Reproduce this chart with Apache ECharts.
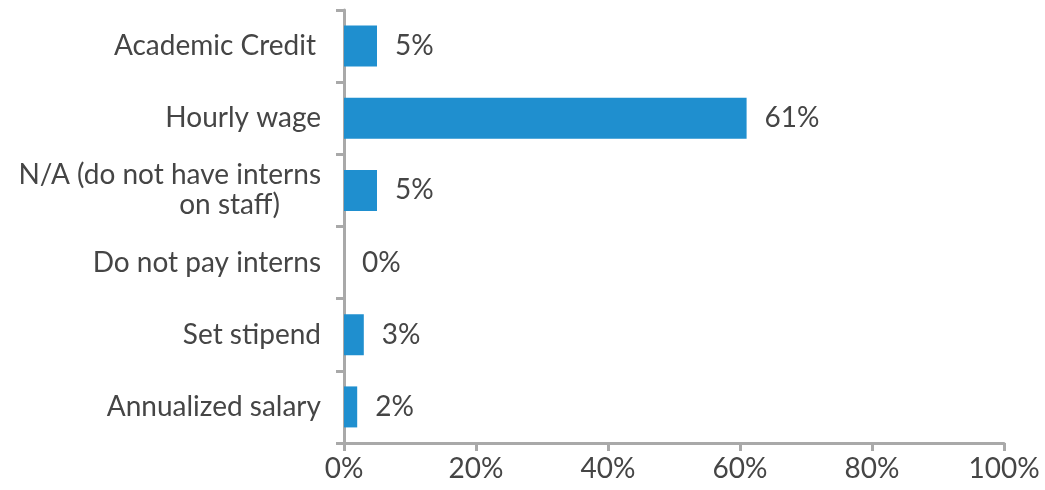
<!DOCTYPE html>
<html>
<head>
<meta charset="utf-8">
<script src="https://cdn.jsdelivr.net/npm/echarts@6/dist/echarts.min.js"></script>
<style>
  html, body { margin: 0; padding: 0; background: #ffffff; }
  #chart { width: 1045px; height: 490px; }
</style>
</head>
<body>
<div id="chart"></div>
<script>
// Intern compensation methods (share of respondents, %)
const categories = [
  'Academic Credit',
  'Hourly wage',
  'N/A (do not have interns on staff)',
  'Do not pay interns',
  'Set stipend',
  'Annualized salary'
];
const values = [5, 61, 5, 0, 3, 2];
const xTicks = [0, 20, 40, 60, 80, 100];

const FONT = 'Lato, "Open Sans", sans-serif';
const FS = 28;
const LH = 30;
const TEXT = '#454545';
const AXIS = '#a9a9a9';

const chart = echarts.init(document.getElementById('chart'), null, { renderer: 'canvas' });

chart.setOption({
  animation: false,
  grid: { left: 344, right: 41, top: 10, bottom: 47, containLabel: false },
  xAxis: {
    type: 'value',
    min: xTicks[0],
    max: xTicks[xTicks.length - 1],
    interval: xTicks[1] - xTicks[0],
    axisLine: { show: true, lineStyle: { color: AXIS, width: 3 } },
    axisTick: { show: true, length: 8, lineStyle: { color: AXIS, width: 3 } },
    splitLine: { show: false },
    axisLabel: {
      margin: 12,
      color: TEXT,
      fontFamily: FONT,
      fontSize: FS,
      formatter: v => v + '%'
    }
  },
  yAxis: {
    type: 'category',
    inverse: true,
    data: categories,
    axisLine: { show: true, lineStyle: { color: AXIS, width: 3 } },
    axisTick: { show: true, length: 8, alignWithLabel: false, lineStyle: { color: AXIS, width: 3 } },
    axisLabel: {
      margin: 23,
      color: TEXT,
      fontFamily: FONT,
      fontSize: FS,
      lineHeight: LH,
      formatter: function (v) {
        if (v === 'N/A (do not have interns on staff)') {
          return '{a|N/A (do not have interns}\n{b|on staff)}';
        }
        if (v === 'Academic Credit') return '{c|' + v + '}';
        return v;
      },
      rich: {
        a: { color: TEXT, fontFamily: FONT, fontSize: FS, lineHeight: LH },
        b: { color: TEXT, fontFamily: FONT, fontSize: FS, lineHeight: LH, padding: [0, 41, 0, 0] },
        c: { color: TEXT, fontFamily: FONT, fontSize: FS, lineHeight: LH, padding: [0, 5, 0, 0] }
      }
    }
  },
  series: [{
    type: 'bar',
    data: values,
    barWidth: 41,
    itemStyle: { color: '#1f8fcf' },
    label: {
      show: true,
      position: 'right',
      distance: 18,
      color: TEXT,
      fontFamily: FONT,
      fontSize: FS,
      formatter: p => p.value + '%'
    }
  }]
});
</script>
</body>
</html>
